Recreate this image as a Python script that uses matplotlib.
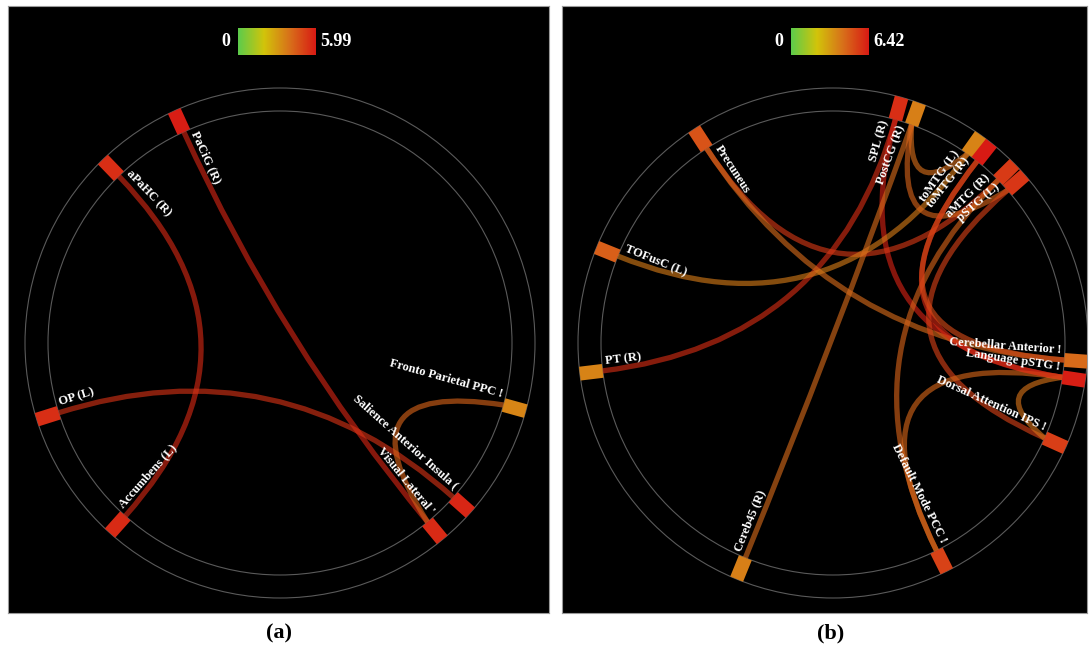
import matplotlib.pyplot as plt
import numpy as np
from matplotlib.path import Path
from matplotlib.patches import PathPatch, Circle
from matplotlib.colors import LinearSegmentedColormap

# ---- panel (a) data ----
nodes_a = ['PaCiG (R)', 'aPaHC (R)', 'OP (L)', 'Accumbens (L)',
           "Visual Lateral '", 'Salience Anterior Insula (', 'Fronto Parietal PPC !']
node_val_a = [5.9, 5.5, 5.5, 5.6, 5.6, 5.7, 3.5]
src_a = ['PaCiG (R)', 'aPaHC (R)', 'OP (L)', 'Fronto Parietal PPC !']
dst_a = ["Visual Lateral '", 'Accumbens (L)', 'Salience Anterior Insula (', "Visual Lateral '"]
edge_val_a = [5.7, 5.6, 5.4, 4.3]
vmax_a = 5.99

# ---- panel (b) data ----
nodes_b = ['SPL (R)', 'PostCG (R)', 'toMTG (L)', 'toMTG (R)', 'aMTG (R)', 'pSTG (L)',
           'Precuneus', 'TOFusC (L)', 'PT (R)', 'Cereb45 (R)', 'Default Mode PCC !',
           'Dorsal Attention IPS !', 'Language pSTG !', 'Cerebellar Anterior !']
node_val_b = [5.9, 3.9, 3.8, 6.4, 5.6, 5.7, 5.0, 4.7, 3.8, 3.9, 5.4, 5.5, 6.3, 4.4]
src_b = ['PT (R)', 'SPL (R)', 'Precuneus', 'Precuneus', 'TOFusC (L)', 'Cereb45 (R)',
         'PostCG (R)', 'PostCG (R)', 'Dorsal Attention IPS !', 'Default Mode PCC !',
         'Default Mode PCC !', 'Language pSTG !', 'toMTG (R)', 'toMTG (R)']
dst_b = ['SPL (R)', 'Language pSTG !', 'aMTG (R)', 'Cerebellar Anterior !', 'toMTG (L)',
         'PostCG (R)', 'toMTG (L)', 'pSTG (L)', 'pSTG (L)', 'aMTG (R)',
         'Language pSTG !', 'Dorsal Attention IPS !', 'Language pSTG !', 'Cerebellar Anterior !']
edge_val_b = [5.9, 6.2, 5.6, 4.4, 4.0, 4.4, 4.3, 4.6, 5.4, 4.6, 4.5, 4.2, 6.0, 5.2]
vmax_b = 6.42

# ---- layout (angles in degrees, pixel geometry) ----
ang_a = [114.5, 134, 197.5, 228.2, 309.5, 318.3, 344.5]
ang_b = [74.4, 70.2, 54.6, 51.6, 44.6, 41.2, 123, 158, 186.9, 247.8, 296.5, 335.8, 351.5, 355.8]
R_OUT, R_IN = 255, 232

cmap = LinearSegmentedColormap.from_list(
    'gyr', ['#5ccc4c', '#d2c40a', '#d8701a', '#d81a14'])

plt.rcParams['font.family'] = ['Liberation Serif', 'DejaVu Serif']


def chord(ax, t1, t2, color):
    a1, a2 = np.radians(t1), np.radians(t2)
    p1 = R_IN * np.array([np.cos(a1), np.sin(a1)])
    p2 = R_IN * np.array([np.cos(a2), np.sin(a2)])
    d = abs((t1 - t2 + 180) % 360 - 180)
    f = max(0.0, 1 - d / 50)
    c = f * (p1 + p2) / 2
    path = Path([p1, c, p2], [Path.MOVETO, Path.CURVE3, Path.CURVE3])
    ax.add_patch(PathPatch(path, fill=False, edgecolor=color, lw=3.8,
                           alpha=0.62, capstyle='butt', zorder=2))


def draw_panel(ax, xlim, nodes, node_val, angles, src, dst, edge_val, vmax):
    ax.set_facecolor('black')
    for s in ax.spines.values():
        s.set_color('#9a9a9a')
        s.set_linewidth(0.8)
    ax.set_xticks([])
    ax.set_yticks([])
    for r in (R_OUT, R_IN):
        ax.add_patch(Circle((0, 0), r, fill=False, ec='#5a5a5a', lw=0.8, zorder=1))

    pos = dict(zip(nodes, angles))
    for s, t, v in zip(src, dst, edge_val):
        chord(ax, pos[s], pos[t], cmap(v / vmax))

    for name, v, th in zip(nodes, node_val, angles):
        a = np.radians(th)
        ax.plot([R_IN * np.cos(a), R_OUT * np.cos(a)], [R_IN * np.sin(a), R_OUT * np.sin(a)],
                lw=10, solid_capstyle='butt', color=cmap(v / vmax), zorder=3)
        right = np.cos(a) > 0
        ta = np.radians(th + (0.9 if right else -0.9))
        ax.text(228 * np.cos(ta), 228 * np.sin(ta), name, color='white',
                fontsize=9, fontweight='bold',
                rotation=th if right else th - 180, rotation_mode='anchor',
                ha='right' if right else 'left', va='bottom', zorder=4)

    grad = np.linspace(0, 1, 256)[None, :]
    ax.imshow(grad, extent=[-42, 36, 288, 315], cmap=cmap, aspect='auto', zorder=3)
    ax.text(-50, 301, '0', color='white', fontsize=13, fontweight='bold',
            ha='right', va='center')
    ax.text(40, 301, f'{vmax:.2f}', color='white', fontsize=13, fontweight='bold',
            ha='left', va='center')
    ax.set_xlim(*xlim)
    ax.set_ylim(-270, 337)


W, H = 1092, 650
fig = plt.figure(figsize=(W / 100, H / 100), dpi=100)
fig.patch.set_facecolor('white')

ax_a = fig.add_axes([8 / W, 37 / H, 541 / W, 607 / H])
draw_panel(ax_a, (-272, 269), nodes_a, node_val_a, ang_a, src_a, dst_a, edge_val_a, vmax_a)

ax_b = fig.add_axes([562 / W, 37 / H, 525 / W, 607 / H])
draw_panel(ax_b, (-271, 254), nodes_b, node_val_b, ang_b, src_b, dst_b, edge_val_b, vmax_b)

fig.text(279 / W, 1 - 633 / H, '(a)', fontsize=16, fontweight='bold', ha='center', va='center')
fig.text(831 / W, 1 - 633 / H, '(b)', fontsize=16, fontweight='bold', ha='center', va='center')

fig.savefig('out.png', dpi=100)
